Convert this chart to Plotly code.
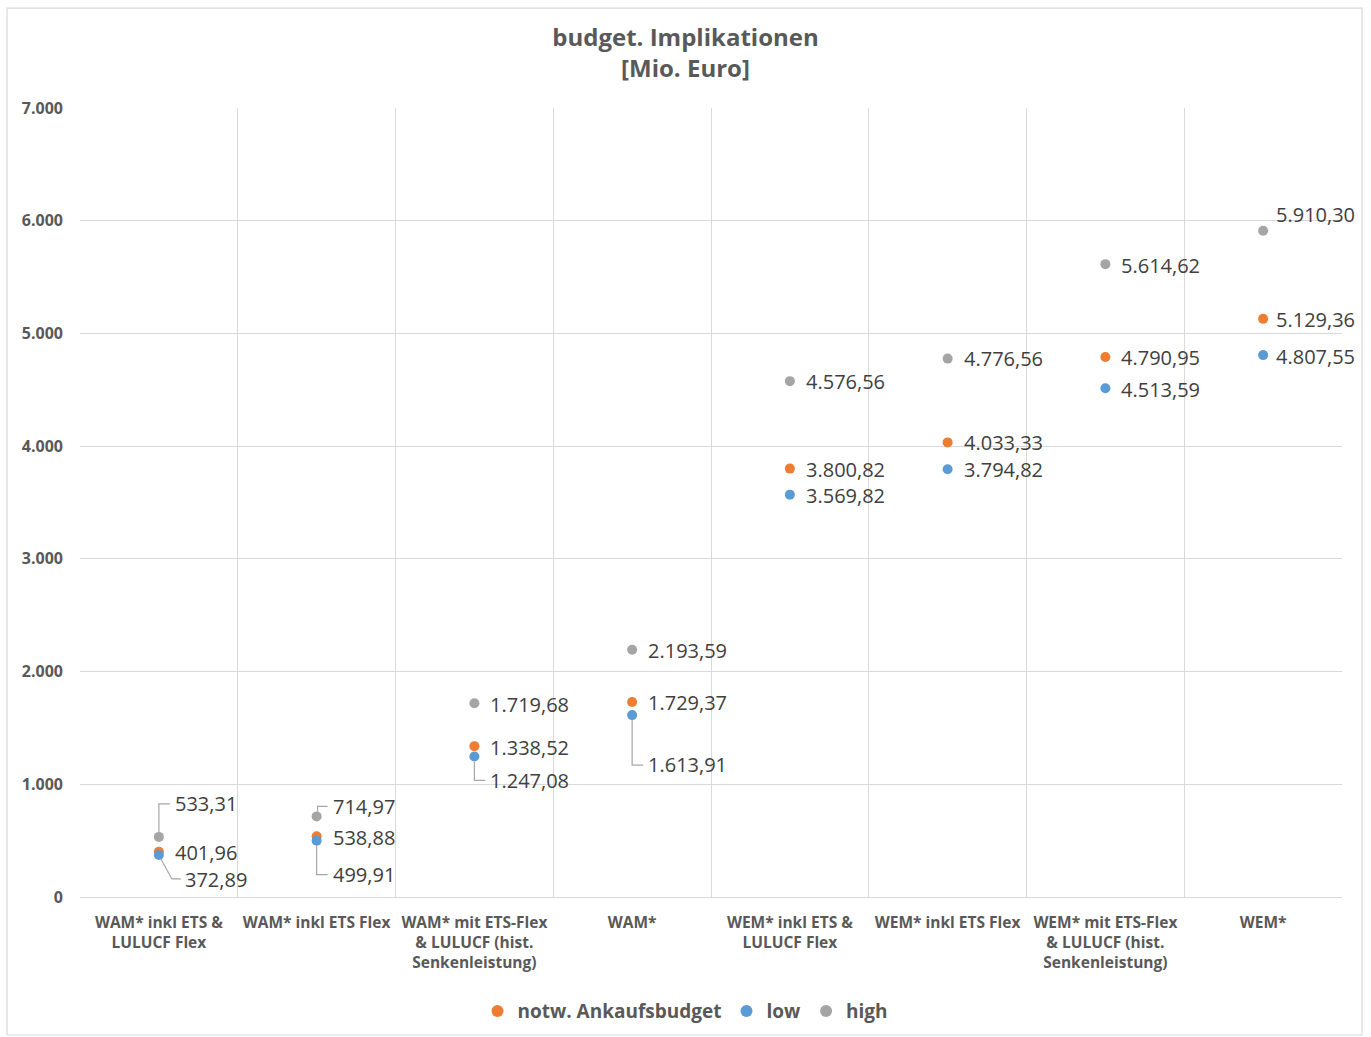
import plotly.graph_objects as go

categories = [
    "WAM* inkl ETS &<br>LULUCF Flex",
    "WAM* inkl ETS Flex",
    "WAM* mit ETS-Flex<br>& LULUCF (hist.<br>Senkenleistung)",
    "WAM*",
    "WEM* inkl ETS &<br>LULUCF Flex",
    "WEM* inkl ETS Flex",
    "WEM* mit ETS-Flex<br>& LULUCF (hist.<br>Senkenleistung)",
    "WEM*",
]
notw = [401.96, 538.88, 1338.52, 1729.37, 3800.82, 4033.33, 4790.95, 5129.36]
low = [372.89, 499.91, 1247.08, 1613.91, 3569.82, 3794.82, 4513.59, 4807.55]
high = [533.31, 714.97, 1719.68, 2193.59, 4576.56, 4776.56, 5614.62, 5910.30]

series_names = ["notw. Ankaufsbudget", "low", "high"]
series_values = [notw, low, high]
series_colors = ["#ED7D31", "#5B9BD5", "#A5A5A5"]

# label offsets (pixels): x shift of left edge, y shift (up positive)
label_dx = [
    [14, 14, 14, 14, 14, 14, 14, 11],
    [24, 14, 14, 14, 14, 14, 14, 11],
    [14, 14, 14, 14, 14, 14, 14, 11],
]
label_dy = [
    [-1, -1.5, -1.5, -0.5, -1, 0, -1, -1],
    [-24.5, -33.5, -24.5, -49.5, -1, 0, -1, -1],
    [33.5, 10, -1.5, -1, -0.5, 0, -1, 16.5],
]
# leader lines: (series index, category index, path in pixels relative to point)
leaders = [
    (2, 0, "M 0,5 L 0,33 L 11,33"),
    (1, 0, "M 2,-4 L 13,-24 L 22,-24"),
    (2, 1, "M 1,5 L 1,10 L 11,10"),
    (1, 1, "M 0,-5 L 0,-34 L 11,-34"),
    (1, 2, "M 0,-5 L 0,-24 L 11,-24"),
    (1, 3, "M 0,-5 L 0,-50 L 11,-50"),
]

fmt = lambda v: f"{v:,.2f}".replace(",", "X").replace(".", ",").replace("X", ".")

fig = go.Figure()
for name, vals, col in zip(series_names, series_values, series_colors):
    fig.add_trace(go.Scatter(
        x=categories, y=vals, mode="markers", name=f"<b>{name}</b>",
        marker=dict(color=col, size=10, line=dict(width=0)),
    ))

annotations = []
for si, vals in enumerate(series_values):
    for ci, v in enumerate(vals):
        annotations.append(dict(
            x=categories[ci], y=v, xref="x", yref="y",
            text=fmt(v), showarrow=False,
            xanchor="left", yanchor="middle",
            xshift=label_dx[si][ci], yshift=label_dy[si][ci],
            font=dict(family="Open Sans, sans-serif", size=20, color="#404040"),
        ))

shapes = []
for si, ci, path in leaders:
    shapes.append(dict(
        type="path", xref="x", yref="y",
        xsizemode="pixel", ysizemode="pixel",
        xanchor=categories[ci], yanchor=series_values[si][ci],
        path=path, line=dict(color="#A6A6A6", width=1.2),
    ))
shapes.append(dict(
    type="rect", xref="paper", yref="paper",
    x0=-0.0578, x1=1.0159, y0=-0.1749, y1=1.1267,
    line=dict(color="#D9D9D9", width=1.2), layer="below",
))

fig.update_layout(
    width=1371, height=1037,
    margin=dict(l=80, r=29, t=108, b=140),
    paper_bgcolor="white", plot_bgcolor="white",
    separators=",.",
    title=dict(
        text="<b>budget. Implikationen<br>[Mio. Euro]</b>",
        x=0.5, xref="container", xanchor="center",
        y=0.956, yref="container", yanchor="top",
        font=dict(family="Open Sans, sans-serif", size=24, color="#595959"),
    ),
    xaxis=dict(
        type="category", tickson="boundaries", range=[-0.5, 7.5],
        showgrid=True, gridcolor="#D9D9D9", gridwidth=1,
        showline=True, linecolor="#D9D9D9", mirror=False,
        ticks="", ticklabelstandoff=11, tickangle=0, automargin=False,
        tickfont=dict(family="Open Sans, sans-serif", size=15.5, color="#595959"),
        tickprefix="<b>", ticksuffix="</b>",
    ),
    yaxis=dict(
        range=[0, 7000], dtick=1000, tickformat=",d", automargin=False,
        showgrid=True, gridcolor="#D9D9D9", gridwidth=1,
        zeroline=True, zerolinecolor="#D9D9D9",
        ticks="", ticklabelstandoff=16,
        tickfont=dict(family="Open Sans, sans-serif", size=16, color="#595959"),
        tickprefix="<b>", ticksuffix="</b>",
    ),
    legend=dict(
        orientation="h", x=0.5, xref="container", xanchor="center",
        y=0.025, yref="container", yanchor="middle",
        font=dict(family="Open Sans, sans-serif", size=19, color="#595959"),
        itemsizing="constant",
    ),
    annotations=annotations,
    shapes=shapes,
)

fig.write_html("out.html")
